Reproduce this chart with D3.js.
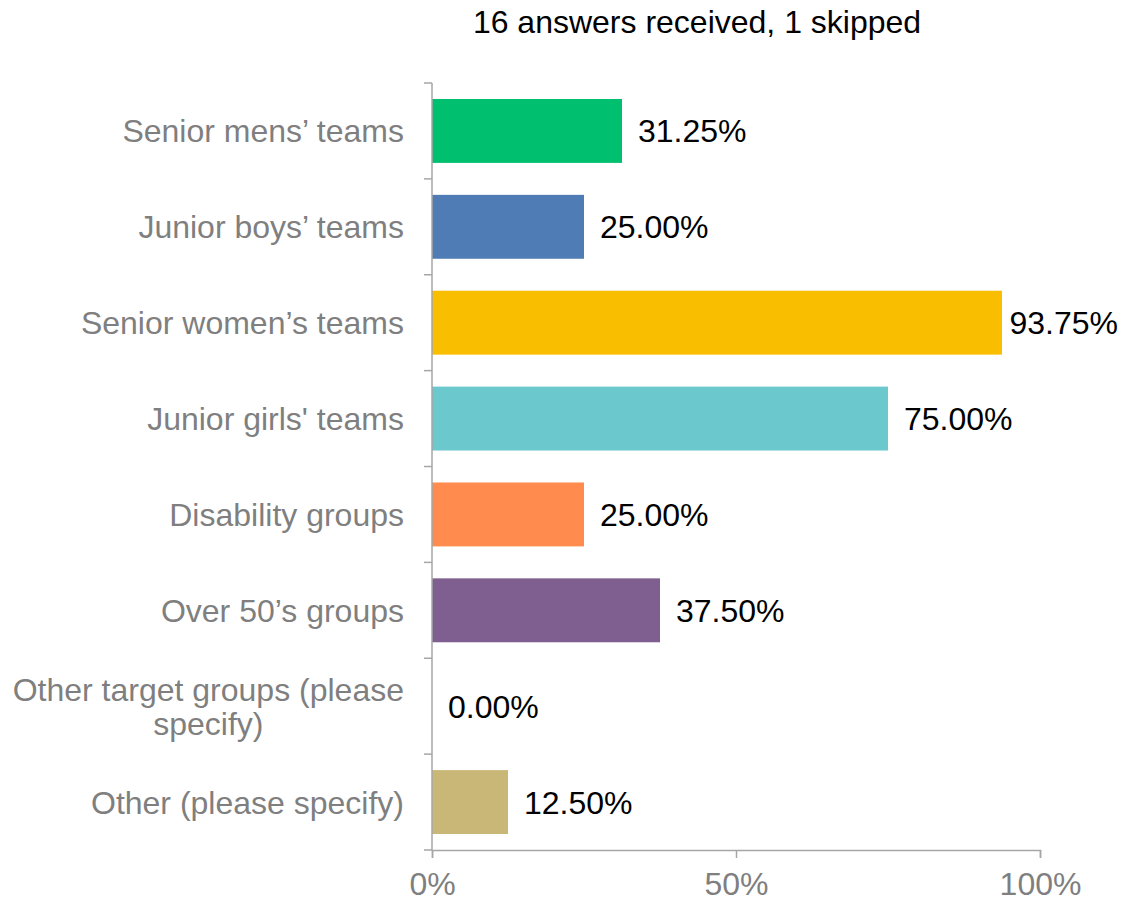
<!DOCTYPE html>
<html><head><meta charset="utf-8">
<script src="https://cdn.jsdelivr.net/npm/d3@7"></script>
<style>body{margin:0;background:#fff;}svg{display:block;}</style>
</head><body>
<svg id="chart" width="1134" height="902"></svg>
<script>
const categories = [
  ["Senior mens\u2019 teams"],
  ["Junior boys\u2019 teams"],
  ["Senior women\u2019s teams"],
  ["Junior girls' teams"],
  ["Disability groups"],
  ["Over 50\u2019s groups"],
  ["Other target groups (please", "specify)"],
  ["Other (please specify)"]
];
const values = [31.25, 25.00, 93.75, 75.00, 25.00, 37.50, 0.00, 12.50];
const colors = ["#00BF6F", "#507CB6", "#F9BE00", "#6BC8CD", "#FF8B4F", "#7F5F90", "#D25F90", "#C9B777"];
const xTicks = [0, 50, 100];
const title = "16 answers received, 1 skipped";

(function () {
const svg = d3.select("#chart");
const font = "Liberation Sans, Arial, sans-serif";
const fs = 32;
const plotLeft = 432, plotRight = 1040, plotTop = 83, plotBottom = 850;

const x = d3.scaleLinear().domain([0, 100]).range([plotLeft, plotRight]);
const y = d3.scaleBand().domain(d3.range(categories.length)).range([plotTop, plotBottom]).paddingInner(1/3).paddingOuter(1/6);
const yTick = d3.scaleLinear().domain([0, categories.length]).range([plotTop, plotBottom]);

svg.append("text").attr("x", 697).attr("y", 33).attr("text-anchor", "middle")
  .attr("font-family", font).attr("font-size", fs).attr("fill", "#000").text(title);

// bars
svg.selectAll("rect.bar").data(values).join("rect").attr("class", "bar")
  .attr("x", x(0)).attr("y", (d, i) => y(i)).attr("width", d => x(d) - x(0))
  .attr("height", y.bandwidth()).attr("fill", (d, i) => colors[i]);

// value labels (kept inside the right edge)
const maxRight = 1118;
svg.selectAll("text.val").data(values).join("text").attr("class", "val")
  .attr("y", (d, i) => y(i) + y.bandwidth() / 2 + 11.5)
  .attr("font-family", font).attr("font-size", fs).attr("fill", "#000")
  .text(d => d.toFixed(2) + "%")
  .attr("x", function (d) {
    const w = this.getComputedTextLength();
    return Math.min(x(d) + 16, maxRight - w);
  });

// y axis line and ticks
const axisColor = "#a6a6a6";
svg.append("line").attr("x1", plotLeft).attr("x2", plotLeft).attr("y1", plotTop).attr("y2", plotBottom)
  .attr("stroke", axisColor).attr("stroke-width", 1.5);
svg.selectAll("line.ytick").data(d3.range(categories.length + 1)).join("line").attr("class", "ytick")
  .attr("x1", plotLeft - 8).attr("x2", plotLeft).attr("y1", d => yTick(d)).attr("y2", d => yTick(d))
  .attr("stroke", axisColor).attr("stroke-width", 1.5);

// x axis
const xAxis = d3.axisBottom(x).tickValues(xTicks).tickSize(8).tickFormat(d => d + "%");
const gx = svg.append("g").attr("transform", `translate(0,${plotBottom})`).call(xAxis);
gx.select(".domain").attr("stroke", axisColor).attr("stroke-width", 1.5);
gx.selectAll(".tick line").attr("stroke", axisColor).attr("stroke-width", 1.5);
gx.selectAll(".tick text").attr("font-family", font).attr("font-size", fs)
  .attr("fill", "#7f7f7f").attr("dy", null).attr("y", 45);

// category labels
const labelRight = 404;
categories.forEach((lines, i) => {
  const cy = y(i) + y.bandwidth() / 2;
  const g = svg.append("g");
  const lh = 34;
  const texts = lines.map((ln, k) => g.append("text")
    .attr("font-family", font).attr("font-size", fs).attr("fill", "#7f7f7f")
    .attr("y", cy + 11.5 + (k - (lines.length - 1) / 2) * lh).text(ln));
  const maxW = d3.max(texts, t => t.node().getComputedTextLength());
  texts.forEach(t => t.attr("text-anchor", "middle").attr("x", labelRight - maxW / 2));
});
})();
</script>
</body></html>
